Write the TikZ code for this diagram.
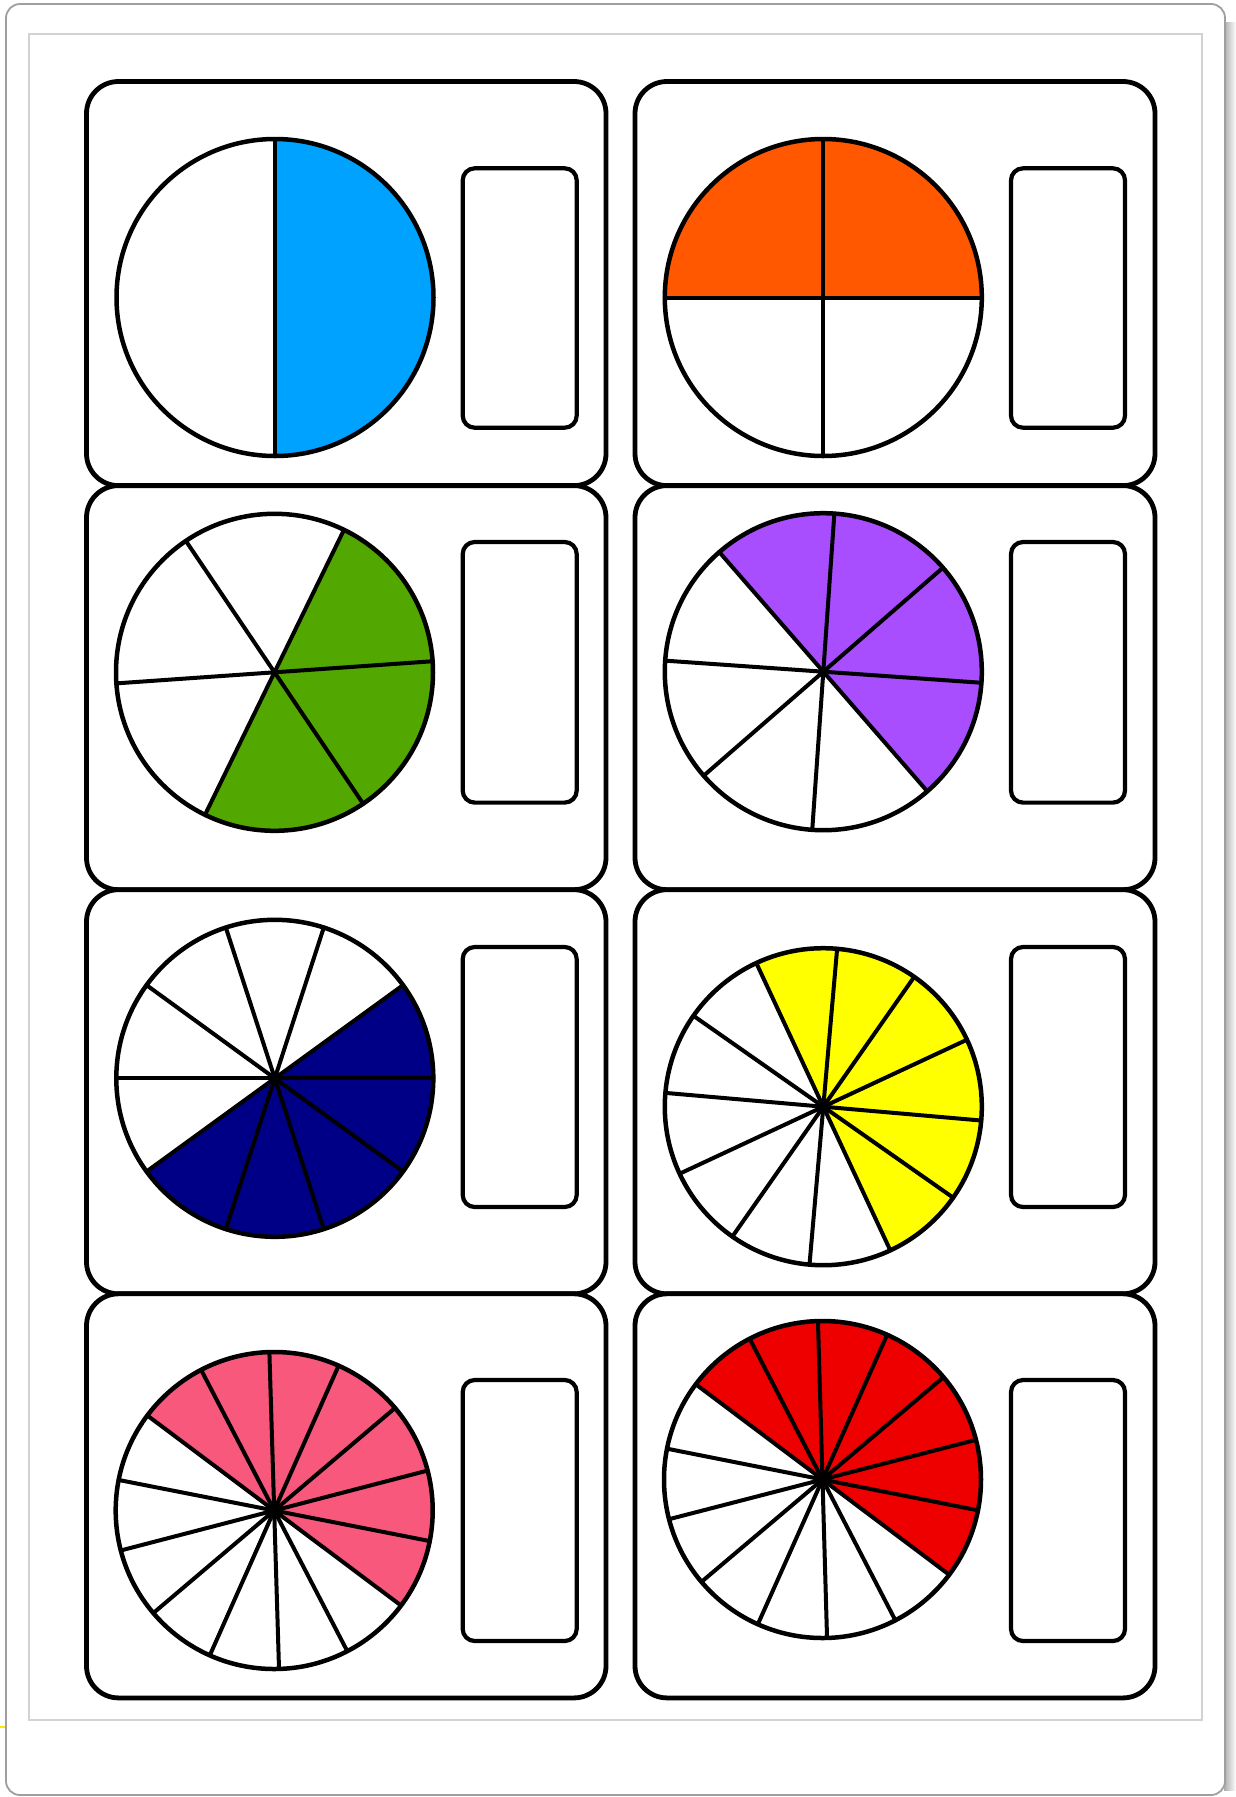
\documentclass[tikz,border=0pt]{standalone}
\usetikzlibrary{calc}
\definecolor{cblue}{RGB}{0,162,255}
\definecolor{corange}{RGB}{255,88,0}
\definecolor{cgreen}{RGB}{82,168,0}
\definecolor{cpurple}{RGB}{168,78,255}
\definecolor{cnavy}{RGB}{0,0,135}
\definecolor{cyellow}{RGB}{255,255,0}
\definecolor{cpink}{RGB}{248,88,124}
\definecolor{cred}{RGB}{238,0,0}
\tikzset{
  card/.style={draw=black,line width=4.8pt,rounded corners=32pt,fill=white},
  ansbox/.style={draw=black,line width=4.2pt,rounded corners=12pt},
  rim/.style={draw=black,line width=4.5pt},
  spoke/.style={draw=black,line width=4pt,line cap=round},
}
\newcommand{\Rad}{158.5}
% #1 cx, #2 cy, #3 n, #4 offset, #5 fill start, #6 fill end, #7 colour, #8 dot radius
\newcommand{\drawpie}[8]{%
  \begin{scope}[shift={(#1,#2)},yscale=-1]
    \fill[#7] (0,0) -- (#5:\Rad) arc[start angle=#5,end angle=#6,radius=\Rad] -- cycle;
    \foreach \k in {1,...,#3} \draw[spoke] (0,0) -- ({#4+360/#3*\k}:\Rad);
    \draw[rim] (0,0) circle[radius=\Rad];
    \fill[black] (0,0) circle[radius=#8];
  \end{scope}}
\begin{document}
\begin{tikzpicture}[x=1pt,y=-1pt]
\useasboundingbox (0,0) rectangle (1236,1797);
\fill[white] (0,0) rectangle (1236,1797);
% page frame
\shade[left color=gray!65,right color=white] (1224,22) rectangle (1236,1790);
\draw[gray!75,line width=1.8pt,rounded corners=14pt,fill=white] (6,4) rectangle (1225,1795);
\draw[gray!35,line width=1.5pt] (29,34) rectangle (1202,1720);
\draw[yellow!90!orange,line width=2pt] (0,1727) -- (5,1727);
% cards
\foreach \r/\ty/\by in {1/81.5/485.6,2/485.6/889.7,3/889.7/1293.8,4/1293.8/1697.9}{
  \draw[card] (86.5,\ty) rectangle (606,\by);
  \draw[card] (635,\ty) rectangle (1155,\by);
}
% answer boxes
\foreach \ty/\by in {168.3/427.7,542/802.6,947/1207,1380/1641}{
  \draw[ansbox] (462.7,\ty) rectangle (576.7,\by);
  \draw[ansbox] (1011,\ty) rectangle (1125,\by);
}
% pies
\drawpie{275}{297.5}{2}{90}{-90}{90}{cblue}{0}
\drawpie{823.3}{297.5}{4}{0}{0}{180}{corange}{0}
\drawpie{274.5}{672.3}{6}{4}{-116}{64}{cgreen}{3}
\drawpie{823.3}{671.7}{8}{-4}{-49}{131}{cpurple}{4}
\drawpie{274.8}{1078.3}{10}{0}{-144}{36}{cnavy}{5}
\drawpie{823.3}{1106.7}{12}{-5}{-65}{115}{cyellow}{6}
\drawpie{274.2}{1510.5}{14}{14.6}{-36.83}{143.17}{cpink}{7}
\drawpie{822.5}{1479.5}{14}{14.5}{-36.93}{143.07}{cred}{7.5}
\end{tikzpicture}
\end{document}
